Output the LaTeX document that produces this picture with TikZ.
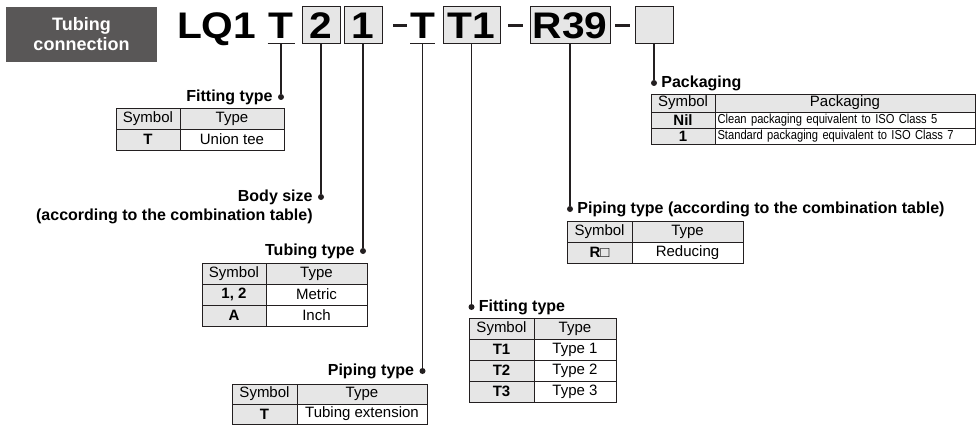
\documentclass[tikz,border=0pt]{standalone}
\usepackage{fontspec}
\setmainfont{Liberation Sans}
\newfontfamily\codefont[FakeStretch=1.1]{Liberation Sans}
\newfontfamily\narrowfont[FakeStretch=0.86]{Liberation Sans}
\usetikzlibrary{positioning}
\definecolor{Panel}{HTML}{595757}
\definecolor{Cell}{HTML}{E6E6E6}
\definecolor{Rule}{HTML}{231F20}

\begin{document}
\begin{tikzpicture}[x=1pt,y=-1pt,
    panel/.style={fill=Panel,text=white,font=\fontsize{18}{20}\selectfont\bfseries,
      align=center,minimum width=151pt,minimum height=55pt,inner sep=0pt},
    code/.style={font=\codefont\fontsize{37}{37}\selectfont\bfseries,minimum height=37pt,
      inner sep=0pt,outer sep=0pt,text height=26.5pt,text depth=0pt},
    slot/.style={code,draw=Rule,fill=Cell,line width=1pt,minimum width=38pt},
    ul/.style={line width=1pt,Rule},
    sep/.style={line width=2.2pt,Rule},
    lead/.style={line width=1.1pt,Rule},
    dot/.style={circle,fill=Rule,inner sep=0pt,minimum size=6pt},
    lbl/.style={font=\fontsize{16}{18}\selectfont\bfseries,inner sep=0pt},
    hd/.style={draw=Rule,fill=Cell,line width=0.8pt,minimum height=21pt,inner sep=0pt,
      outer sep=0pt,font=\fontsize{15}{15}\selectfont},
    sym/.style={hd,font=\fontsize{15}{15}\selectfont\bfseries},
    val/.style={hd,fill=white},
    pk/.style={val,font=\narrowfont\fontsize{13}{13}\selectfont,text width=255pt,align=left,inner xsep=2.5pt}
  ]
    \useasboundingbox (0,0) rectangle (976,425);

    % model code
    \node[panel] (head) at (81.5,34.5) {Tubing\\connection};
    \node[code,anchor=west] (lq) at (177,25.5) {LQ1};
    \node[code,minimum width=27pt] (cT) at (281,25.5) {T};
    \node[slot] (c2) at (321,25.5) {2};
    \node[slot] (c1) at (363,25.5) {1};
    \node[code,minimum width=25pt] (cT2) at (422.5,25.5) {T};
    \node[slot,minimum width=57pt] (cT1) at (471.5,25.5) {T1};
    \node[slot,minimum width=80pt] (cR) at (570,25.5) {R39};
    \node[slot] (cP) at (654,25.5) {};
    \draw[ul] (cT.south west) -- (cT.south east);
    \draw[ul] (cT2.south west) -- (cT2.south east);
    \draw[sep,shorten <=11pt,shorten >=3pt] (c1.east) -- (cT2.west);
    \draw[sep,shorten <=8pt,shorten >=7pt] (cT1.east) -- (cR.west);
    \draw[sep,shorten <=5pt,shorten >=5pt] (cR.east) -- (cP.west);

    % leaders
    \node[dot] (dA) at (281,97) {};
    \node[dot] (dB) at (321,197) {};
    \node[dot] (dC) at (363,251) {};
    \node[dot] (dD) at (422.5,371) {};
    \node[dot] (dE) at (471.5,307) {};
    \node[dot] (dF) at (570,209) {};
    \node[dot] (dG) at (654,83) {};
    \foreach \a/\b in {cT/dA,c2/dB,c1/dC,cT2/dD,cT1/dE,cR/dF,cP/dG}
      \draw[lead] (\a.south) -- (\b);

    \node[lbl,left=5pt of dA] (lA) {Fitting type};
    \node[lbl,left=5pt of dB] (lB) {Body size};
    \node[lbl,anchor=base east] (lB2) at ([yshift=-19pt]lB.base east) {(according to the combination table)};
    \node[lbl,left=5pt of dC] (lC) {Tubing type};
    \node[lbl,left=5pt of dD] (lD) {Piping type};
    \node[lbl,right=4pt of dE] (lE) {Fitting type};
    \node[lbl,right=4pt of dF] (lF) {Piping type (according to the combination table)};
    \node[lbl,right=4pt of dG] (lG) {Packaging};

    % fitting type (T)
    \node[hd,minimum width=64pt,anchor=north west] (ta1) at (116,108) {Symbol};
    \node[hd,minimum width=104pt,right=0pt of ta1] (ta2) {Type};
    \node[sym,minimum width=64pt,below=0pt of ta1] (ta3) {T};
    \node[val,minimum width=104pt,right=0pt of ta3] (ta4) {Union tee};

    % tubing type
    \node[hd,minimum width=64pt,anchor=north west] (tc1) at (202,263) {Symbol};
    \node[hd,minimum width=101pt,right=0pt of tc1] (tc2) {Type};
    \node[sym,minimum width=64pt,below=0pt of tc1] (tc3) {1, 2};
    \node[val,minimum width=101pt,right=0pt of tc3] (tc4) {Metric};
    \node[sym,minimum width=64pt,below=0pt of tc3] (tc5) {A};
    \node[val,minimum width=101pt,right=0pt of tc5] (tc6) {Inch};

    % piping type (T)
    \node[hd,minimum width=65pt,minimum height=20pt,anchor=north west] (td1) at (232,384) {Symbol};
    \node[hd,minimum width=130pt,minimum height=20pt,right=0pt of td1] (td2) {Type};
    \node[sym,minimum width=65pt,minimum height=20pt,below=0pt of td1] (td3) {T};
    \node[val,minimum width=130pt,minimum height=20pt,right=0pt of td3] (td4) {Tubing extension};

    % fitting type (T1)
    \node[hd,minimum width=65pt,anchor=north west] (te1) at (469,318) {Symbol};
    \node[hd,minimum width=82pt,right=0pt of te1] (te2) {Type};
    \node[sym,minimum width=65pt,below=0pt of te1] (te3) {T1};
    \node[val,minimum width=82pt,right=0pt of te3] (te4) {Type 1};
    \node[sym,minimum width=65pt,below=0pt of te3] (te5) {T2};
    \node[val,minimum width=82pt,right=0pt of te5] (te6) {Type 2};
    \node[sym,minimum width=65pt,below=0pt of te5] (te7) {T3};
    \node[val,minimum width=82pt,right=0pt of te7] (te8) {Type 3};

    % piping type (R)
    \node[hd,minimum width=65pt,anchor=north west] (tf1) at (567,221) {Symbol};
    \node[hd,minimum width=111pt,right=0pt of tf1] (tf2) {Type};
    \node[sym,minimum width=65pt,below=0pt of tf1] (tf3) {R\mdseries□};
    \node[val,minimum width=111pt,right=0pt of tf3] (tf4) {Reducing};

    % packaging
    \node[hd,minimum width=64pt,minimum height=18pt,anchor=north west] (tg1) at (651,94) {Symbol};
    \node[hd,minimum width=260pt,minimum height=18pt,right=0pt of tg1] (tg2) {Packaging};
    \node[sym,minimum width=64pt,minimum height=16pt,below=0pt of tg1] (tg3) {Nil};
    \node[pk,minimum height=16pt,right=0pt of tg3] (tg4) {Clean packaging equivalent to ISO Class 5};
    \node[sym,minimum width=64pt,minimum height=16pt,below=0pt of tg3] (tg5) {1};
    \node[pk,minimum height=16pt,right=0pt of tg5] (tg6) {Standard packaging equivalent to ISO Class 7};
  \end{tikzpicture}
\end{document}
